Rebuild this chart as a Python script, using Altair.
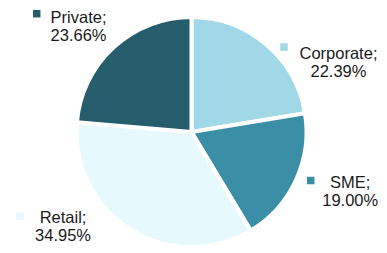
import altair as alt
import pandas as pd

categories = ["Corporate", "SME", "Retail", "Private"]
shares = [22.39, 19.00, 34.95, 23.66]
colors = ["#A0D8E8", "#3A8EA5", "#E6F9FD", "#255D6D"]

df = pd.DataFrame({
    "idx": list(range(len(categories))),
    "cat": categories,
    "share": shares,
})
df["label"] = [f"{c};\n{v:.2f}%" for c, v in zip(categories, shares)]

CX, CY = 183.5, 124
R_LABEL = 160

# label offsets (style) per category: text (dx, dy) and marker (dx, dy) from the label anchor
text_off = {"Private": (-4.7, 8.8), "Corporate": (43.5, 49), "SME": (13.5, -11.1), "Retail": (-43.9, -44.5)}
mark_off = {"Private": (-46.5, -0.5), "Corporate": (-11, 37), "SME": (-26, -18.6), "Retail": (-86.9, -51.5)}

color_scale = alt.Scale(domain=categories, range=colors)

pie = alt.Chart(df).mark_arc(outerRadius=115, stroke="white", strokeWidth=4).encode(
    theta=alt.Theta("share:Q", stack=True),
    order=alt.Order("idx:Q"),
    color=alt.Color("cat:N", scale=color_scale, legend=None),
    x=alt.value(CX), y=alt.value(CY),
)

lab_base = alt.Chart(df).transform_window(
    cum="sum(share)", sort=[alt.SortField("idx")]
).transform_calculate(
    mid="datum.cum - datum.share / 2"
).transform_calculate(
    px=f"{CX} + {R_LABEL} * sin(2 * PI * datum.mid / 100)",
    py=f"{CY} - {R_LABEL} * cos(2 * PI * datum.mid / 100)",
)

layers = [pie]
for c in categories:
    tdx, tdy = text_off[c]
    mdx, mdy = mark_off[c]
    b = lab_base.transform_filter(alt.datum.cat == c)
    txt = b.mark_text(dx=tdx, dy=tdy, align="center", baseline="alphabetic",
                      font="Liberation Sans", fontSize=16.5, lineHeight=18, lineBreak="\n",
                      color="#1a1a1a").encode(
        x=alt.X("px:Q", scale=None, axis=None),
        y=alt.Y("py:Q", scale=None, axis=None),
        text="label:N",
    )
    mk = b.transform_calculate(
        mx=f"datum.px + ({mdx})", my=f"datum.py + ({mdy})"
    ).mark_point(shape="square", filled=True, size=56, opacity=1).encode(
        x=alt.X("mx:Q", scale=None, axis=None),
        y=alt.Y("my:Q", scale=None, axis=None),
        color=alt.Color("cat:N", scale=color_scale, legend=None),
    )
    layers += [mk, txt]

chart = alt.layer(*layers).properties(
    width=371, height=237, padding=0, autosize=alt.AutoSizeParams(type="none")
).configure_view(stroke=None)

chart.save("out.html", embed_options={"renderer": "svg", "actions": False})
